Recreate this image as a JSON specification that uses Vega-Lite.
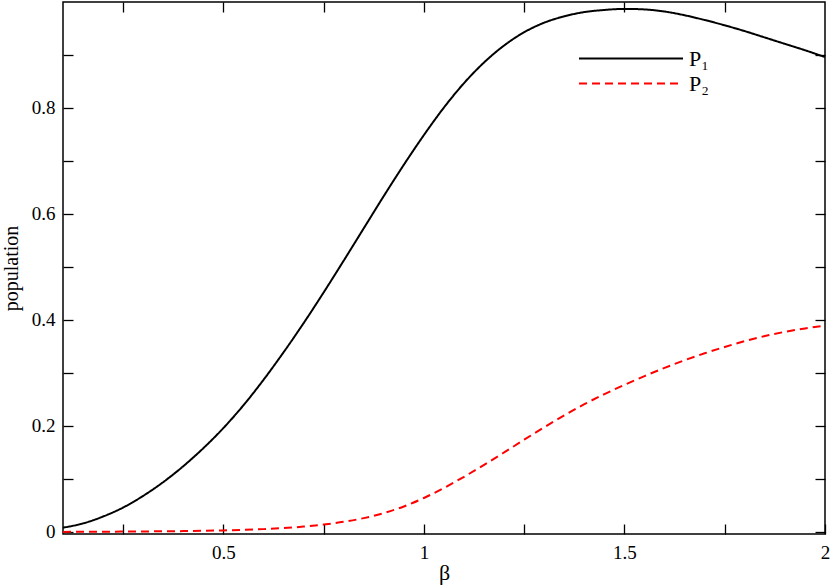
{
  "$schema": "https://vega.github.io/schema/vega-lite/v6.json",
  "width": 762,
  "height": 532,
  "autosize": {"type": "none"},
  "padding": {"left": 63, "top": 2, "right": 5, "bottom": 53},
  "background": "white",
  "config": {
    "view": {"stroke": "#000", "strokeWidth": 1.5},
    "axis": {
      "domain": false,
      "grid": false,
      "labelFont": "Liberation Serif",
      "labelFontSize": 19,
      "labelColor": "#000",
      "labelFlush": false,
      "labelOverlap": false,
      "titleFont": "Liberation Serif",
      "titleColor": "#000",
      "titleFontWeight": "normal"
    },
    "legend": {
      "orient": "none",
      "legendX": 515,
      "legendY": 44,
      "title": null,
      "symbolType": "stroke",
      "symbolSize": 10816,
      "symbolStrokeWidth": 2,
      "clipHeight": 25,
      "rowPadding": 0,
      "padding": 0,
      "labelFont": "Liberation Serif",
      "labelFontSize": 22,
      "labelColor": "#000",
      "labelOffset": 5
    }
  },
  "data": {
    "values": [
      {"beta": 0.10, "pop": 0.008, "series": "P₁"},
      {"beta": 0.15, "pop": 0.016, "series": "P₁"},
      {"beta": 0.20, "pop": 0.029, "series": "P₁"},
      {"beta": 0.25, "pop": 0.046, "series": "P₁"},
      {"beta": 0.30, "pop": 0.068, "series": "P₁"},
      {"beta": 0.35, "pop": 0.094, "series": "P₁"},
      {"beta": 0.40, "pop": 0.124, "series": "P₁"},
      {"beta": 0.45, "pop": 0.158, "series": "P₁"},
      {"beta": 0.50, "pop": 0.196, "series": "P₁"},
      {"beta": 0.55, "pop": 0.239, "series": "P₁"},
      {"beta": 0.60, "pop": 0.287, "series": "P₁"},
      {"beta": 0.65, "pop": 0.339, "series": "P₁"},
      {"beta": 0.70, "pop": 0.394, "series": "P₁"},
      {"beta": 0.75, "pop": 0.452, "series": "P₁"},
      {"beta": 0.80, "pop": 0.512, "series": "P₁"},
      {"beta": 0.85, "pop": 0.573, "series": "P₁"},
      {"beta": 0.90, "pop": 0.634, "series": "P₁"},
      {"beta": 0.95, "pop": 0.693, "series": "P₁"},
      {"beta": 1.00, "pop": 0.749, "series": "P₁"},
      {"beta": 1.05, "pop": 0.801, "series": "P₁"},
      {"beta": 1.10, "pop": 0.847, "series": "P₁"},
      {"beta": 1.15, "pop": 0.886, "series": "P₁"},
      {"beta": 1.20, "pop": 0.918, "series": "P₁"},
      {"beta": 1.25, "pop": 0.943, "series": "P₁"},
      {"beta": 1.30, "pop": 0.961, "series": "P₁"},
      {"beta": 1.35, "pop": 0.973, "series": "P₁"},
      {"beta": 1.40, "pop": 0.981, "series": "P₁"},
      {"beta": 1.45, "pop": 0.985, "series": "P₁"},
      {"beta": 1.50, "pop": 0.987, "series": "P₁"},
      {"beta": 1.55, "pop": 0.986, "series": "P₁"},
      {"beta": 1.60, "pop": 0.982, "series": "P₁"},
      {"beta": 1.65, "pop": 0.975, "series": "P₁"},
      {"beta": 1.70, "pop": 0.966, "series": "P₁"},
      {"beta": 1.75, "pop": 0.956, "series": "P₁"},
      {"beta": 1.80, "pop": 0.945, "series": "P₁"},
      {"beta": 1.85, "pop": 0.933, "series": "P₁"},
      {"beta": 1.90, "pop": 0.921, "series": "P₁"},
      {"beta": 1.95, "pop": 0.909, "series": "P₁"},
      {"beta": 2.00, "pop": 0.896, "series": "P₁"},
      {"beta": 0.10, "pop": 0.0000, "series": "P₂"},
      {"beta": 0.20, "pop": 0.0003, "series": "P₂"},
      {"beta": 0.30, "pop": 0.0008, "series": "P₂"},
      {"beta": 0.40, "pop": 0.0015, "series": "P₂"},
      {"beta": 0.50, "pop": 0.0028, "series": "P₂"},
      {"beta": 0.55, "pop": 0.0038, "series": "P₂"},
      {"beta": 0.60, "pop": 0.0052, "series": "P₂"},
      {"beta": 0.65, "pop": 0.0072, "series": "P₂"},
      {"beta": 0.70, "pop": 0.0100, "series": "P₂"},
      {"beta": 0.75, "pop": 0.0138, "series": "P₂"},
      {"beta": 0.80, "pop": 0.0190, "series": "P₂"},
      {"beta": 0.85, "pop": 0.0260, "series": "P₂"},
      {"beta": 0.90, "pop": 0.0355, "series": "P₂"},
      {"beta": 0.95, "pop": 0.0480, "series": "P₂"},
      {"beta": 1.00, "pop": 0.0640, "series": "P₂"},
      {"beta": 1.05, "pop": 0.0830, "series": "P₂"},
      {"beta": 1.10, "pop": 0.1040, "series": "P₂"},
      {"beta": 1.15, "pop": 0.1265, "series": "P₂"},
      {"beta": 1.20, "pop": 0.1500, "series": "P₂"},
      {"beta": 1.25, "pop": 0.1740, "series": "P₂"},
      {"beta": 1.30, "pop": 0.1975, "series": "P₂"},
      {"beta": 1.35, "pop": 0.2200, "series": "P₂"},
      {"beta": 1.40, "pop": 0.2410, "series": "P₂"},
      {"beta": 1.45, "pop": 0.2600, "series": "P₂"},
      {"beta": 1.50, "pop": 0.2775, "series": "P₂"},
      {"beta": 1.55, "pop": 0.2940, "series": "P₂"},
      {"beta": 1.60, "pop": 0.3095, "series": "P₂"},
      {"beta": 1.65, "pop": 0.3240, "series": "P₂"},
      {"beta": 1.70, "pop": 0.3370, "series": "P₂"},
      {"beta": 1.75, "pop": 0.3490, "series": "P₂"},
      {"beta": 1.80, "pop": 0.3600, "series": "P₂"},
      {"beta": 1.85, "pop": 0.3695, "series": "P₂"},
      {"beta": 1.90, "pop": 0.3775, "series": "P₂"},
      {"beta": 1.95, "pop": 0.3840, "series": "P₂"},
      {"beta": 2.00, "pop": 0.3890, "series": "P₂"}
    ]
  },
  "layer": [
    {
      "mark": {"type": "line", "strokeWidth": 2, "interpolate": "monotone"},
      "encoding": {
        "x": {
          "field": "beta", "type": "quantitative",
          "scale": {"domain": [0.1, 2], "nice": false, "zero": false},
          "axis": {
            "orient": "bottom",
            "values": [0.25, 0.5, 0.75, 1, 1.25, 1.5, 1.75, 2],
            "format": "~g",
            "labelExpr": "round(datum.value * 4) % 2 === 0 ? datum.label : ''",
            "tickSize": -10, "tickColor": "#000", "tickWidth": 1.3,
            "labelPadding": 19,
            "title": "β", "titleFontSize": 22, "titlePadding": 0
          }
        },
        "y": {
          "field": "pop", "type": "quantitative",
          "scale": {"domain": [-0.004, 1], "nice": false, "zero": false},
          "axis": {
            "orient": "left",
            "values": [0, 0.1, 0.2, 0.3, 0.4, 0.5, 0.6, 0.7, 0.8, 0.9],
            "format": "~g",
            "labelExpr": "round(datum.value * 10) % 2 === 0 ? datum.label : ''",
            "tickSize": -10, "tickColor": "#000", "tickWidth": 1.3,
            "labelPadding": 18,
            "title": "population", "titleFontSize": 20, "titlePadding": 10
          }
        },
        "color": {
          "field": "series", "type": "nominal",
          "scale": {"domain": ["P₁", "P₂"], "range": ["#000000", "#ff0000"]}
        },
        "strokeDash": {
          "field": "series", "type": "nominal",
          "scale": {"domain": ["P₁", "P₂"], "range": [[1, 0], [8, 5]]}
        }
      }
    },
    {
      "mark": {"type": "line", "opacity": 0},
      "encoding": {
        "x": {
          "field": "beta", "type": "quantitative",
          "axis": {
            "orient": "top",
            "values": [0.25, 0.5, 0.75, 1, 1.25, 1.5, 1.75],
            "labels": false, "title": null,
            "tickSize": -10, "tickColor": "#000", "tickWidth": 1.3
          }
        },
        "y": {
          "field": "pop", "type": "quantitative",
          "axis": {
            "orient": "right",
            "values": [0, 0.1, 0.2, 0.3, 0.4, 0.5, 0.6, 0.7, 0.8, 0.9],
            "labels": false, "title": null,
            "tickSize": -10, "tickColor": "#000", "tickWidth": 1.3
          }
        }
      }
    }
  ],
  "resolve": {"axis": {"x": "independent", "y": "independent"}}
}
